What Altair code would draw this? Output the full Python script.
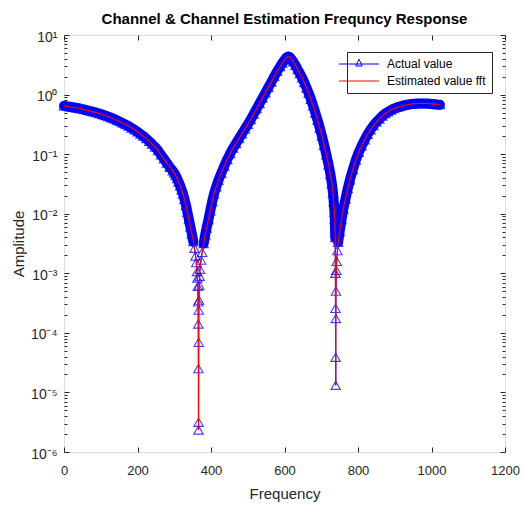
import altair as alt
import pandas as pd

# ---------------- data ----------------
freq = [0, 8, 16, 24, 32, 40, 48, 56, 64, 72, 80, 88, 96, 104, 112, 120, 128, 136, 144, 152,
        160, 168, 176, 184, 192, 200, 208, 216, 224, 232, 240, 248, 256, 264, 272, 280, 288, 296,
        300, 304, 308, 312, 316, 320, 324, 328, 332, 336, 340, 344, 348, 352, 355, 358, 360, 362,
        363, 364, 365, 365.4, 365.8, 366, 366.2, 366.5, 366.8, 367.3, 368, 369, 370, 373, 376,
        380, 384, 388, 393, 398, 403, 408, 414, 420, 428, 436, 444, 452, 460, 468, 476, 484, 492,
        500, 508, 516, 524, 532, 540, 548, 556, 564, 572, 580, 588, 594, 600, 605, 610, 614, 618,
        624, 630, 636, 642, 648, 654, 660, 666, 672, 678, 684, 690, 696, 702, 708, 714, 720, 725,
        729, 732, 734, 736, 737, 738, 738.5, 738.8, 739.1, 739.4, 739.6, 740, 741, 742, 744, 746,
        750, 755, 760, 766, 772, 778, 786, 794, 802, 810, 818, 826, 834, 842, 850, 858, 866, 874,
        882, 890, 898, 906, 914, 922, 930, 938, 946, 954, 962, 970, 978, 986, 994, 1002, 1010,
        1016, 1023]

actual = [0.646, 0.635, 0.624, 0.612, 0.601, 0.589, 0.575, 0.560, 0.543, 0.528, 0.513, 0.497,
          0.480, 0.462, 0.445, 0.427, 0.408, 0.390, 0.371, 0.351, 0.331, 0.314, 0.295, 0.275,
          0.256, 0.237, 0.218, 0.200, 0.182, 0.164, 0.147, 0.131, 0.115, 0.0977, 0.0832, 0.0708,
          0.0603, 0.0525, 0.0479, 0.0437, 0.0389, 0.0339, 0.0295, 0.0251, 0.0214, 0.0174, 0.0138,
          0.0105, 0.00794, 0.00603, 0.00457, 0.00339, 0.00263, 0.00195, 0.00151, 0.00107,
          0.000832, 0.000603, 0.000331, 0.000141, 0.0000251, 0.00000234, 0.00000316, 0.0000692,
          0.000240, 0.000355, 0.000631, 0.000891, 0.00117, 0.00166, 0.00224, 0.00316, 0.00437,
          0.00575, 0.00794, 0.0112, 0.0158, 0.0214, 0.0282, 0.0363, 0.0479, 0.0631, 0.0813, 0.102,
          0.126, 0.151, 0.182, 0.219, 0.263, 0.316, 0.380, 0.468, 0.575, 0.708, 0.871, 1.07, 1.32,
          1.62, 2.00, 2.46, 2.95, 3.39, 3.80, 4.17, 4.37, 4.27, 3.98, 3.55, 3.09, 2.63, 2.24, 1.91,
          1.59, 1.29, 1.05, 0.832, 0.646, 0.490, 0.372, 0.275, 0.200, 0.141, 0.0977, 0.0661,
          0.0457, 0.0316, 0.0224, 0.0158, 0.0105, 0.00794, 0.00398, 0.00100, 0.000257, 0.0000389,
          0.0000132, 0.000174, 0.000501, 0.00112, 0.00158, 0.00240, 0.00331, 0.00501, 0.00794,
          0.0120, 0.0178, 0.0263, 0.0372, 0.0550, 0.0794, 0.107, 0.138, 0.174, 0.214, 0.257,
          0.302, 0.347, 0.389, 0.437, 0.479, 0.513, 0.550, 0.582, 0.610, 0.631, 0.653, 0.668,
          0.684, 0.695, 0.703, 0.708, 0.711, 0.711, 0.708, 0.703, 0.697, 0.689, 0.682, 0.676]

# the FFT estimate coincides with the actual response in the picture
estimated = list(actual)

series_names = ["Actual value", "Estimated value fft"]
x_ticks = [0, 200, 400, 600, 800, 1000, 1200]
y_decades = [1e-6, 1e-5, 1e-4, 1e-3, 1e-2, 1e-1, 1e0, 1e1]
y_minor = [k * d for d in y_decades[:-1] for k in range(2, 10)]

df = pd.DataFrame({"Frequency": freq, "Actual": actual, "Estimated": estimated})
legend_df = pd.DataFrame({"series": series_names, "Frequency": [600, 600], "Actual": [1.0, 1.0]})

# ---------------- style ----------------
FONT = "Liberation Sans, Arial, Helvetica, sans-serif"
AX = "#262626"
BLUE = "#0000ff"
RED = "#ff0000"

x_scale = alt.Scale(domain=[0, 1200], nice=False, zero=False)
y_scale = alt.Scale(type="log", domain=[1e-6, 10], nice=False)

sup_expr = ("['10\u207b\u2076','10\u207b\u2075','10\u207b\u2074','10\u207b\u00b3',"
            "'10\u207b\u00b2','10\u207b\u00b9','10\u2070','10\u00b9']"
            "[round(log(datum.value)/LN10)+6]")

common = dict(domain=False, grid=False, tickColor=AX, tickWidth=1, labelFont=FONT,
              labelColor=AX, titleFont=FONT, titleColor=AX)

ax_bottom = alt.Axis(values=x_ticks, orient="bottom", offset=-5, tickSize=5, labelPadding=12,
                     labelFontSize=13, labelFlush=False, labelOverlap=False, format="d",
                     title="Frequency", titleFontSize=15, titleFontWeight="normal",
                     titlePadding=9, **common)
ax_top = alt.Axis(values=x_ticks, orient="top", offset=-5, tickSize=5, labels=False,
                  title=None, **common)
ax_left = alt.Axis(values=y_decades, orient="left", offset=-5, tickSize=5, labelPadding=7,
                   labelFontSize=14, labelExpr=sup_expr, labelOffset=2, labelOverlap=False,
                   labelFlush=False, title="Amplitude", titleFontSize=15,
                   titleFontWeight="normal", titlePadding=4, **common)
ax_right = alt.Axis(values=y_decades, orient="right", offset=-5, tickSize=5, labels=False,
                    title=None, **common)
ax_left_minor = alt.Axis(values=y_minor, orient="left", offset=-3, tickSize=3, labels=False,
                         title=None, **common)
ax_right_minor = alt.Axis(values=y_minor, orient="right", offset=-3, tickSize=3, labels=False,
                          title=None, **common)

base = alt.Chart(df)

# dense band formed by the overlapping triangle markers (drawn where they merge)
band = base.transform_filter("datum.Actual > 0.003").transform_calculate(
    branch="datum.Frequency < 366 ? 'a' : (datum.Frequency < 739.5 ? 'b' : 'c')"
).mark_line(color=BLUE, strokeWidth=10, strokeCap="round", strokeJoin="round").encode(
    x=alt.X("Frequency:Q", scale=x_scale, axis=None),
    y=alt.Y("Actual:Q", scale=y_scale, axis=None),
    detail="branch:N",
)

blue_line = base.mark_line(color=BLUE, strokeWidth=1).encode(
    x=alt.X("Frequency:Q", scale=x_scale, axis=ax_bottom),
    y=alt.Y("Actual:Q", scale=y_scale, axis=ax_left),
)

blue_pts = base.mark_point(shape="triangle-up", filled=False, size=90, color=BLUE,
                           strokeWidth=1.1, opacity=0.75).encode(
    x=alt.X("Frequency:Q", scale=x_scale, axis=ax_top),
    y=alt.Y("Actual:Q", scale=y_scale, axis=ax_right),
)

red_line = base.mark_line(color=RED, strokeWidth=1.2).encode(
    x=alt.X("Frequency:Q", scale=x_scale, axis=None),
    y=alt.Y("Estimated:Q", scale=y_scale, axis=ax_left_minor),
)

leg = alt.Legend(orient="none", legendX=283, legendY=17, title=None, labelFont=FONT,
                 labelFontSize=12, labelColor="#000000", symbolSize=64, symbolStrokeWidth=1,
                 symbolOpacity=1, strokeColor=AX, fillColor="white", padding=6,
                 rowPadding=5, labelOffset=22, direction="vertical")

legend_layer = alt.Chart(legend_df).mark_point(filled=False, opacity=0, strokeWidth=1,
                                               size=64).encode(
    x=alt.X("Frequency:Q", scale=x_scale, axis=None),
    y=alt.Y("Actual:Q", scale=y_scale, axis=ax_right_minor),
    color=alt.Color("series:N", scale=alt.Scale(domain=series_names, range=[BLUE, RED]),
                    legend=leg),
    shape=alt.Shape("series:N",
                    scale=alt.Scale(domain=series_names,
                                    range=["M-5,0H5M-0.8,0.5L0,-1.2L0.8,0.5Z", "M-5,0H5"]),
                    legend=leg),
)

chart = alt.layer(band, blue_line, blue_pts, red_line, legend_layer).resolve_axis(
    x="independent", y="independent"
).properties(
    width=441, height=417,
    autosize=alt.AutoSizeParams(type="none"),
    padding={"left": 64, "top": 35, "right": 19, "bottom": 54},
    title=alt.TitleParams("Channel & Channel Estimation Frequncy Response", font=FONT,
                          fontSize=15, fontWeight="bold", color="#000000", offset=3,
                          anchor="middle"),
).configure_view(stroke=AX, strokeWidth=1).configure(background="white")

chart.save("out.html", embed_options={"renderer": "svg", "actions": False})
